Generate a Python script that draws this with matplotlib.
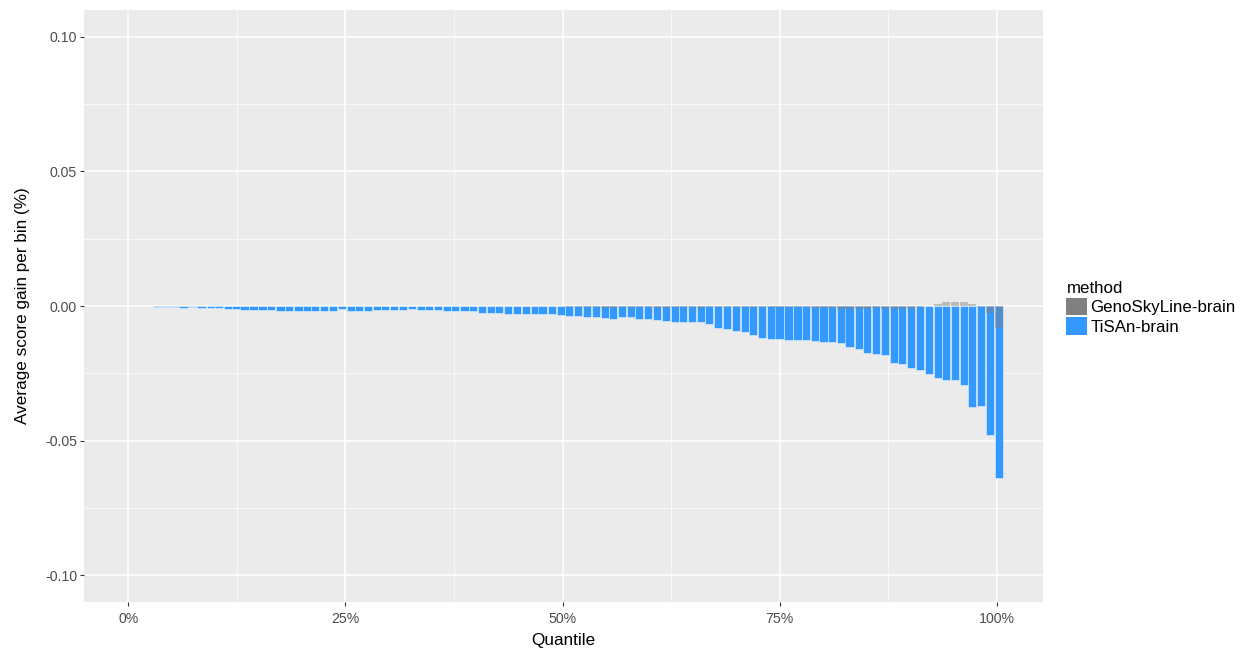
import matplotlib
matplotlib.use("Agg")
import matplotlib.pyplot as plt
from matplotlib.patches import Patch
from matplotlib.ticker import FuncFormatter, MultipleLocator

# bin positions (% quantile)
quantile = [3.35, 4.41, 5.37, 6.35, 7.39, 8.42, 9.48, 10.43, 11.45, 12.45,
            13.37, 14.40, 15.44, 16.47, 17.53, 18.49, 19.60, 20.56, 21.52, 22.50,
            23.53, 24.57, 25.60, 26.52, 27.56, 28.61, 29.57, 30.63, 31.59, 32.62,
            33.68, 34.64, 35.65, 36.65, 37.59, 38.71, 39.66, 40.72, 41.75, 42.67,
            43.71, 44.71, 45.78, 46.80, 47.68, 48.77, 49.80, 50.73, 51.77, 52.80,
            53.80, 54.86, 55.79, 56.86, 57.91, 58.83, 59.86, 60.90, 61.93, 62.91,
            63.87, 64.92, 65.96, 66.88, 67.91, 68.95, 69.98, 71.02, 71.94, 72.97,
            74.05, 74.97, 76.01, 77.04, 78.04, 79.07, 80.03, 81.03, 82.11, 83.03,
            84.10, 85.06, 86.10, 87.09, 88.11, 89.11, 90.12, 91.14, 92.14, 93.18,
            94.17, 95.15, 96.17, 97.16, 98.18, 99.23, 100.25]

tisan = [-0.0005, -0.0005, -0.0005, -0.0008, -0.0005, -0.0008, -0.0008, -0.0008, -0.0011, -0.0011,
         -0.0016, -0.0016, -0.0016, -0.0016, -0.0020, -0.0020, -0.0020, -0.0020, -0.0020, -0.0020,
         -0.0020, -0.0012, -0.0020, -0.0020, -0.0020, -0.0016, -0.0016, -0.0016, -0.0016, -0.0011,
         -0.0016, -0.0016, -0.0016, -0.0018, -0.0020, -0.0020, -0.0020, -0.0025, -0.0025, -0.0025,
         -0.0028, -0.0028, -0.0028, -0.0028, -0.0028, -0.0028, -0.0032, -0.0036, -0.0036, -0.0040,
         -0.0040, -0.0043, -0.0047, -0.0040, -0.0042, -0.0047, -0.0047, -0.0051, -0.0054, -0.0059,
         -0.0059, -0.0059, -0.0059, -0.0068, -0.0080, -0.0085, -0.0094, -0.0098, -0.0106, -0.0120,
         -0.0121, -0.0121, -0.0126, -0.0126, -0.0126, -0.0130, -0.0133, -0.0134, -0.0139, -0.0152,
         -0.0161, -0.0173, -0.0178, -0.0183, -0.0210, -0.0214, -0.0232, -0.0236, -0.0253, -0.0267,
         -0.0275, -0.0275, -0.0293, -0.0377, -0.0373, -0.0478, -0.0641]

genosky = [-0.0001] * 47 + [
           -0.0003, -0.0003, -0.0003, -0.0003, -0.0008, -0.0008, -0.0003, -0.0003, -0.0003, -0.0003,
           -0.0008, -0.0008, -0.0003, -0.0003, -0.0003, -0.0008, -0.0003, -0.0003, -0.0003, -0.0003,
           -0.0004, -0.0004, -0.0005, -0.0005, -0.0005, -0.0005, -0.0005, -0.0005, -0.0006, -0.0006,
           -0.0006, -0.0011, -0.0011, -0.0011, -0.0011, -0.0006, -0.0010, -0.0010, -0.0012, -0.0012,
           -0.0003, -0.0001, 0.0008, 0.0015, 0.0015, 0.0015, 0.0008, -0.0002, -0.0025, -0.0082]

methods = ["GenoSkyLine-brain", "TiSAn-brain"]
colors = {"GenoSkyLine-brain": "#808080", "TiSAn-brain": "#3399ff"}

plt.rcParams['font.family'] = ['Liberation Sans', 'DejaVu Sans']

fig = plt.figure(figsize=(12.47, 6.52), dpi=100)
ax = fig.add_axes([84 / 1247, 1 - 602 / 652, (1043 - 84) / 1247, (602 - 10) / 652])
ax.set_facecolor("#ebebeb")

x = [q / 100 for q in quantile]
ax.bar(x, tisan, width=0.0095, color=colors["TiSAn-brain"],
       edgecolor=(1, 1, 1, 0.45), linewidth=0.7, zorder=2)
ax.bar(x, genosky, width=0.0095, color=colors["GenoSkyLine-brain"], alpha=0.45,
       edgecolor="none", linewidth=0, zorder=3)

ax.set_xlim(-0.051, 1.053)
ax.set_ylim(-0.11, 0.11)
ax.xaxis.set_major_locator(MultipleLocator(0.25))
ax.xaxis.set_minor_locator(MultipleLocator(0.125))
ax.yaxis.set_major_locator(MultipleLocator(0.05))
ax.yaxis.set_minor_locator(MultipleLocator(0.025))
ax.xaxis.set_major_formatter(FuncFormatter(lambda v, p: f"{v * 100:.0f}%"))
ax.yaxis.set_major_formatter(FuncFormatter(lambda v, p: f"{v:.2f}"))

ax.set_axisbelow(True)
ax.grid(which="major", color="white", linewidth=1.1)
ax.grid(which="minor", color="white", linewidth=0.5)
for s in ax.spines.values():
    s.set_visible(False)
ax.tick_params(which="major", length=3, width=0.8, color="#333333",
               labelcolor="#4d4d4d", labelsize=10.2, pad=2)
ax.tick_params(axis="x", which="major", pad=4.5)
ax.tick_params(which="minor", length=0)

ax.set_xlabel("Quantile", fontsize=12.3, labelpad=5)
ax.set_ylabel("Average score gain per bin (%)", fontsize=12.3, labelpad=11)

handles = [Patch(facecolor=colors[m], edgecolor="none") for m in methods]
leg = fig.legend(handles, methods, title="method", loc="center left",
                 bbox_to_anchor=(1058 / 1247, 1 - 308 / 652), frameon=False,
                 fontsize=12.2, title_fontsize=12.2, handlelength=1.2, handleheight=1.25,
                 handletextpad=0.2, labelspacing=0.08, borderpad=0, alignment="left")

fig.savefig("out.png", dpi=100)
